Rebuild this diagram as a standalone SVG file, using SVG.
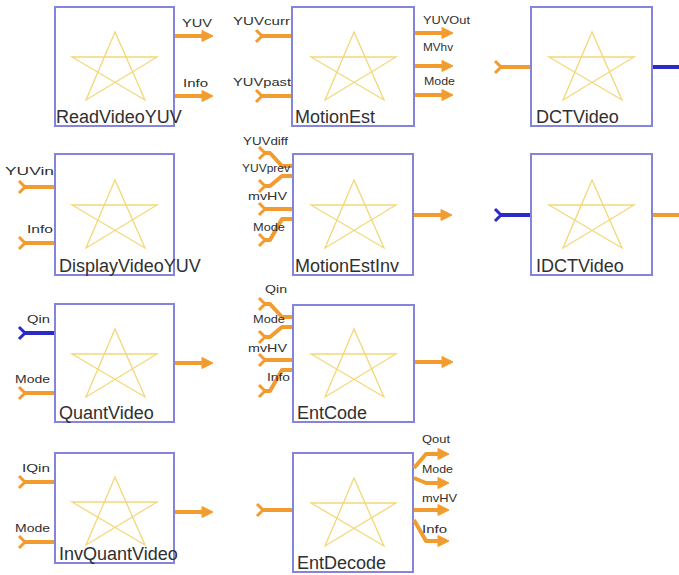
<svg xmlns="http://www.w3.org/2000/svg" xmlns:xlink="http://www.w3.org/1999/xlink" width="679" height="575" viewBox="0 0 679 575">
<style>
.box{fill:#ffffff;stroke:#8484dc;stroke-width:2}
.star{fill:none;stroke:#f3d878;stroke-width:1.3}
.name{font-family:"Liberation Sans",Arial,sans-serif;font-size:18px;fill:#303030}
.pl{font-family:"Liberation Sans",Arial,sans-serif;font-size:11px;fill:#303030}
.or{stroke:#f29b2f;fill:#f29b2f}
.bl{stroke:#2a2ac8;fill:#2a2ac8}
.wire{fill:none;stroke:#f29b2f;stroke-width:4;stroke-linejoin:round}
</style>
<defs>
<path id="star" d="M60,25 L31,93 L102,50 L17,50 L90,93 Z"/>
<g id="outArrow"><line x1="0" y1="0" x2="30" y2="0" stroke-width="4"/><path d="M27,-5.5 L38,0 L27,5.5 Z" stroke-width="1"/></g>
<g id="inTail"><line x1="-30" y1="0" x2="0" y2="0" stroke-width="4"/><polyline points="-35,-6 -29,0 -35,6" fill="none" stroke-width="3"/></g>
<g id="head"><path d="M-11,-5.5 L0,0 L-11,5.5 Z" stroke-width="1"/></g>
<g id="fork"><polyline points="-3,-6 3,0 -3,6" fill="none" stroke-width="3"/></g>
</defs>

<g id="ReadVideoYUV">
<rect class="box" x="55" y="7" width="119" height="119"/>
<use href="#star" class="star" x="55" y="7"/>
<text class="name" x="56" y="123">ReadVideoYUV</text>
<use href="#outArrow" class="or" x="175" y="36"/>
<use href="#outArrow" class="or" x="175" y="96"/>
<text class="pl" x="182" y="27" textLength="30" lengthAdjust="spacingAndGlyphs">YUV</text>
<text class="pl" x="183" y="87" textLength="25" lengthAdjust="spacingAndGlyphs">Info</text>
</g>

<g id="MotionEst">
<rect class="box" x="292" y="7" width="122" height="119"/>
<use href="#star" class="star" x="294" y="7"/>
<text class="name" x="295" y="123">MotionEst</text>
<use href="#inTail" class="or" x="291" y="36"/>
<use href="#inTail" class="or" x="291" y="96"/>
<use href="#outArrow" class="or" x="415" y="33"/>
<use href="#outArrow" class="or" x="415" y="66"/>
<use href="#outArrow" class="or" x="415" y="95"/>
<text class="pl" x="233" y="25" textLength="57" lengthAdjust="spacingAndGlyphs">YUVcurr</text>
<text class="pl" x="233" y="86" textLength="58" lengthAdjust="spacingAndGlyphs">YUVpast</text>
<text class="pl" x="423" y="24" textLength="47" lengthAdjust="spacingAndGlyphs">YUVOut</text>
<text class="pl" x="423" y="51" textLength="30" lengthAdjust="spacingAndGlyphs">MVhv</text>
<text class="pl" x="424" y="85" textLength="31" lengthAdjust="spacingAndGlyphs">Mode</text>
</g>

<g id="DCTVideo">
<rect class="box" x="531" y="7" width="121" height="119"/>
<use href="#star" class="star" x="532" y="7"/>
<text class="name" x="536" y="123">DCTVideo</text>
<use href="#inTail" class="or" x="530" y="67"/>
<use href="#outArrow" class="bl" x="653" y="67"/>
</g>

<g id="DisplayVideoYUV">
<rect class="box" x="55" y="154" width="119" height="121"/>
<use href="#star" class="star" x="55" y="155"/>
<text class="name" x="59" y="272">DisplayVideoYUV</text>
<use href="#inTail" class="or" x="54" y="187"/>
<use href="#inTail" class="or" x="54" y="243"/>
<text class="pl" x="5" y="175" textLength="49" lengthAdjust="spacingAndGlyphs">YUVin</text>
<text class="pl" x="27" y="233" textLength="26" lengthAdjust="spacingAndGlyphs">Info</text>
</g>

<g id="MotionEstInv">
<rect class="box" x="293" y="154" width="120" height="121"/>
<use href="#star" class="star" x="294" y="155"/>
<text class="name" x="295" y="272">MotionEstInv</text>
<path class="wire" d="M264,153 L270,153 L282,166 L292,166"/>
<path class="wire" d="M264,186 L270,186 L282,176 L292,176"/>
<path class="wire" d="M264,209 L292,209"/>
<path class="wire" d="M264,240 L270,240 L282,219 L292,219"/>
<use href="#fork" class="or" x="262" y="153"/>
<use href="#fork" class="or" x="262" y="186"/>
<use href="#fork" class="or" x="262" y="209"/>
<use href="#fork" class="or" x="262" y="240"/>
<use href="#outArrow" class="or" x="414" y="215"/>
<text class="pl" x="243" y="145" textLength="45" lengthAdjust="spacingAndGlyphs">YUVdiff</text>
<text class="pl" x="242" y="172" textLength="48" lengthAdjust="spacingAndGlyphs">YUVprev</text>
<text class="pl" x="248" y="200" textLength="39" lengthAdjust="spacingAndGlyphs">mvHV</text>
<text class="pl" x="253" y="231" textLength="32" lengthAdjust="spacingAndGlyphs">Mode</text>
</g>

<g id="IDCTVideo">
<rect class="box" x="531" y="154" width="121" height="121"/>
<use href="#star" class="star" x="532" y="155"/>
<text class="name" x="536" y="272">IDCTVideo</text>
<use href="#inTail" class="bl" x="530" y="215"/>
<use href="#outArrow" class="or" x="653" y="215"/>
</g>

<g id="QuantVideo">
<rect class="box" x="55" y="304" width="119" height="118"/>
<use href="#star" class="star" x="55" y="304"/>
<text class="name" x="59" y="419">QuantVideo</text>
<use href="#inTail" class="bl" x="54" y="333"/>
<use href="#inTail" class="or" x="54" y="393"/>
<use href="#outArrow" class="or" x="175" y="363"/>
<text class="pl" x="27" y="323" textLength="23" lengthAdjust="spacingAndGlyphs">Qin</text>
<text class="pl" x="15" y="383" textLength="35" lengthAdjust="spacingAndGlyphs">Mode</text>
</g>

<g id="EntCode">
<rect class="box" x="293" y="305" width="121" height="117"/>
<use href="#star" class="star" x="294" y="304"/>
<text class="name" x="297" y="419">EntCode</text>
<path class="wire" d="M264,304 L270,304 L282,317 L292,317"/>
<path class="wire" d="M264,337 L270,337 L282,327 L292,327"/>
<path class="wire" d="M264,360 L292,360"/>
<path class="wire" d="M264,391 L270,391 L282,370 L292,370"/>
<use href="#fork" class="or" x="262" y="304"/>
<use href="#fork" class="or" x="262" y="337"/>
<use href="#fork" class="or" x="262" y="360"/>
<use href="#fork" class="or" x="262" y="391"/>
<use href="#outArrow" class="or" x="415" y="362"/>
<text class="pl" x="265" y="293" textLength="22" lengthAdjust="spacingAndGlyphs">Qin</text>
<text class="pl" x="253" y="323" textLength="32" lengthAdjust="spacingAndGlyphs">Mode</text>
<text class="pl" x="248" y="352" textLength="39" lengthAdjust="spacingAndGlyphs">mvHV</text>
<text class="pl" x="267" y="381" textLength="23" lengthAdjust="spacingAndGlyphs">Info</text>
</g>

<g id="InvQuantVideo">
<rect class="box" x="55" y="453" width="119" height="110"/>
<use href="#star" class="star" x="55" y="452"/>
<text class="name" x="59" y="560">InvQuantVideo</text>
<use href="#inTail" class="or" x="54" y="482"/>
<use href="#inTail" class="or" x="54" y="542"/>
<use href="#outArrow" class="or" x="175" y="512"/>
<text class="pl" x="22" y="472" textLength="28" lengthAdjust="spacingAndGlyphs">IQin</text>
<text class="pl" x="15" y="532" textLength="35" lengthAdjust="spacingAndGlyphs">Mode</text>
</g>

<g id="EntDecode">
<rect class="box" x="293" y="453" width="120" height="119"/>
<use href="#star" class="star" x="294" y="453"/>
<text class="name" x="297" y="569">EntDecode</text>
<use href="#inTail" class="or" x="292" y="510"/>
<path class="wire" d="M414,468 L426,454 L440,454"/>
<path class="wire" d="M414,478 L426,483 L440,483"/>
<path class="wire" d="M414,510 L440,510"/>
<path class="wire" d="M414,520 L426,541 L440,541"/>
<use href="#head" class="or" x="449" y="454"/>
<use href="#head" class="or" x="449" y="483"/>
<use href="#head" class="or" x="449" y="510"/>
<use href="#head" class="or" x="449" y="541"/>
<text class="pl" x="422" y="443" textLength="28" lengthAdjust="spacingAndGlyphs">Qout</text>
<text class="pl" x="422" y="473" textLength="31" lengthAdjust="spacingAndGlyphs">Mode</text>
<text class="pl" x="422" y="502" textLength="35" lengthAdjust="spacingAndGlyphs">mvHV</text>
<text class="pl" x="422" y="533" textLength="25" lengthAdjust="spacingAndGlyphs">Info</text>
</g>

<g id="connectors"></g>
</svg>
